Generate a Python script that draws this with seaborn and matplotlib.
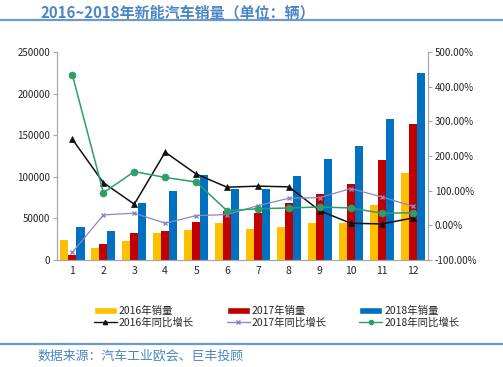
import numpy as np
import pandas as pd
import matplotlib
matplotlib.use("Agg")
import matplotlib.pyplot as plt
from matplotlib.lines import Line2D
from matplotlib.patches import Patch
from matplotlib.ticker import FuncFormatter, FixedLocator
import seaborn as sns

# -------------------------------
# data
# -------------------------------
months = [str(m) for m in range(1, 13)]
sales_2016 = [23600, 14000, 23200, 32800, 35600, 44800, 37800, 39200, 44800, 44800, 65600, 104000]
sales_2017 = [6000, 18800, 32000, 34400, 45600, 59200, 56400, 68000, 78800, 91200, 120000, 163600]
sales_2018 = [39200, 34400, 68400, 82400, 102400, 84800, 84800, 101200, 121200, 137600, 169200, 224800]
growth_2016 = [248, 123, 61, 211, 148, 110, 113, 111, 42, 6, 4, 21]
growth_2017 = [-78, 30, 35, 6, 28, 31, 57, 78, 80, 106, 82, 55]
growth_2018 = [433, 94, 155, 138, 125, 42, 48, 50, 53, 50, 35, 36]

sales_labels = ["2016年销量", "2017年销量", "2018年销量"]
growth_labels = ["2016年同比增长", "2017年同比增长", "2018年同比增长"]
bar_colors = ["#FFC000", "#C00000", "#0070C0"]
line_colors = ["#111111", "#8C86C4", "#2E9E6A"]
line_markers = ["^", "x", "o"]

sales = pd.DataFrame({"month": months * 3,
                      "series": np.repeat(sales_labels, 12),
                      "value": sales_2016 + sales_2017 + sales_2018})
growth = pd.DataFrame({"pos": list(range(12)) * 3,
                       "series": np.repeat(growth_labels, 12),
                       "value": growth_2016 + growth_2017 + growth_2018})

# -------------------------------
# style
# -------------------------------
sns.set_style("white")
plt.rcParams["font.family"] = ["Noto Sans CJK SC", "DejaVu Sans"]
title_blue = "#4A86C6"
rule_blue = "#6A9BCF"
axis_gray = "#A6A6A6"

fig = plt.figure(figsize=(5.03, 3.67), dpi=100)
ax = fig.add_axes([0.1133, 0.2916, 0.7377, 0.5667])

# -------------------------------
# bars
# -------------------------------
sns.barplot(data=sales, x="month", y="value", hue="series", palette=bar_colors,
            width=0.78, saturation=1, linewidth=0, legend=False, ax=ax)
ax.set_ylim(0, 250000)
ax.set_yticks(np.arange(0, 250001, 50000))
ax.set_xlim(-0.5, 11.5)
ax.set_xlabel("")
ax.set_ylabel("")

# -------------------------------
# growth lines on right axis
# -------------------------------
ax2 = ax.twinx()
for lab, col, mk in zip(growth_labels, line_colors, line_markers):
    sub = growth[growth["series"] == lab]
    sns.lineplot(data=sub, x="pos", y="value", color=col, marker=mk,
                 markersize=5 if mk != "x" else 3.5, markeredgecolor=col,
                 markeredgewidth=1 if mk == "x" else 0.5,
                 linewidth=1.1 if mk != "x" else 0.9, ax=ax2)
ax2.set_ylim(-100, 500)
ax2.set_yticks(np.arange(-100, 501, 100))
ax2.yaxis.set_major_formatter(FuncFormatter(lambda v, p: f"{v:.2f}%"))
ax2.set_xlim(-0.5, 11.5)
ax2.set_xlabel("")
ax2.set_ylabel("")

# axes cosmetics
for a in (ax, ax2):
    for s in a.spines.values():
        s.set_color(axis_gray)
        s.set_linewidth(0.8)
    a.spines["top"].set_visible(False)
ax.tick_params(axis="y", labelsize=7, length=3, color=axis_gray, pad=2)
ax.tick_params(axis="x", labelsize=7.5, length=0, pad=4)
ax.xaxis.set_minor_locator(FixedLocator(np.arange(-0.5, 12, 1)))
ax.tick_params(axis="x", which="minor", length=3, color=axis_gray, direction="in")
ax2.tick_params(axis="y", labelsize=7, length=3, color=axis_gray, pad=2)

# -------------------------------
# legend
# -------------------------------
handles = []
for i in range(3):
    handles.append(Patch(facecolor=bar_colors[i], label=sales_labels[i]))
    handles.append(Line2D([0], [0], color=line_colors[i], marker=line_markers[i],
                          markersize=3, linewidth=1, label=growth_labels[i]))
fig.legend(handles=handles, loc="center", bbox_to_anchor=(0.55, 0.137), ncol=3,
           frameon=False, fontsize=7.5, handlelength=2.2, handletextpad=0.2,
           columnspacing=3.15, labelspacing=0.15, handleheight=0.7)

# -------------------------------
# title, rules, source
# -------------------------------
fig.text(0.08, 0.967, "2016~2018年新能汽车销量（单位：辆）", fontsize=10.8,
         fontweight="bold", color=title_blue, va="center")
fig.add_artist(Line2D([0, 1], [0.945, 0.945], color=rule_blue, linewidth=1.6))
fig.add_artist(Line2D([0, 1], [0.062, 0.062], color=rule_blue, linewidth=1.6))
fig.text(0.074, 0.03, "数据来源：汽车工业欧会、巨丰投顾", fontsize=9.3,
         color=title_blue, va="center")

fig.savefig("out.png", dpi=100)
